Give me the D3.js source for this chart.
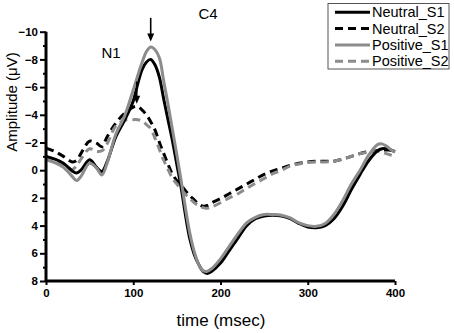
<!DOCTYPE html>
<html><head><meta charset="utf-8">
<script src="https://cdn.jsdelivr.net/npm/d3@7/dist/d3.min.js"></script>
<style>body{margin:0;background:#fff}svg{display:block}text{font-family:Arial,"Liberation Sans",sans-serif}</style>
</head><body>
<script>
const times = [0,10,20,30,35,40,50,58,64,70,80,90,100,105,110,115,120,125,130,135,140,145,150,155,160,165,170,175,180,185,190,200,210,220,230,240,250,260,270,280,290,300,310,320,330,340,350,360,370,380,385,390,395,400];
const neutralS1 = [-1.0,-0.8,-0.5,0.05,0.2,0.0,-0.75,-0.2,0.1,-0.6,-2.4,-3.6,-5.0,-6.2,-7.25,-7.8,-8.0,-7.6,-6.7,-5.1,-3.6,-2.1,-0.4,1.3,3.3,5.0,6.1,6.8,7.3,7.45,7.3,6.7,5.8,4.9,4.0,3.5,3.3,3.25,3.3,3.5,3.85,4.1,4.15,4.0,3.5,2.6,1.4,0.3,-0.7,-1.4,-1.55,-1.55,-1.45,-1.35];
const neutralS2 = [-1.6,-1.35,-1.0,-0.6,-0.7,-1.2,-2.1,-1.95,-1.7,-2.4,-3.4,-4.1,-4.55,-4.6,-4.35,-4.0,-3.5,-2.9,-2.0,-1.2,-0.4,0.3,0.75,1.1,1.5,1.85,2.15,2.45,2.6,2.55,2.35,2.05,1.7,1.35,1.0,0.65,0.3,0.05,-0.15,-0.35,-0.5,-0.6,-0.65,-0.65,-0.65,-0.8,-1.0,-1.2,-1.35,-1.4,-1.45,-1.45,-1.45,-1.4];
const positiveS1 = [-0.75,-0.55,-0.2,0.45,0.75,0.45,-0.5,-0.15,0.35,-0.5,-2.6,-3.9,-5.8,-6.8,-7.75,-8.55,-8.9,-8.7,-8.1,-6.4,-4.7,-2.9,-1.1,0.8,2.8,4.6,5.9,6.8,7.25,7.3,7.1,6.4,5.5,4.6,3.8,3.4,3.2,3.2,3.25,3.45,3.8,4.0,4.05,3.85,3.2,2.2,1.0,0.0,-1.1,-1.85,-1.9,-1.75,-1.5,-1.3];
const positiveS2 = [-1.0,-0.7,-0.4,-0.05,-0.3,-0.8,-1.55,-1.35,-1.4,-1.9,-3.2,-3.6,-3.65,-3.65,-3.57,-3.3,-3.0,-2.3,-1.5,-0.7,-0.05,0.6,1.0,1.4,1.75,2.05,2.35,2.55,2.7,2.75,2.65,2.35,2.0,1.7,1.3,0.95,0.6,0.25,0.0,-0.3,-0.45,-0.55,-0.6,-0.6,-0.65,-0.8,-1.0,-1.2,-1.3,-1.35,-1.3,-1.2,-1.1,-1.0];
const seriesNames = ["Neutral_S1","Neutral_S2","Positive_S1","Positive_S2"];
const xTicks = [0,100,200,300,400];
const yTicks = [-10,-8,-6,-4,-2,0,2,4,6,8];
const yMinorTicks = [-9,-7,-5,-3,-1,1,3,5,7];
const arrowTimes = [120,104];
const arrowFrom = [-11.0,-6.4];
const arrowTo = [-9.3,-4.8];

const W=454,H=333;
const svg=d3.select("body").append("svg").attr("width",W).attr("height",H);
svg.append("rect").attr("width",W).attr("height",H).attr("fill","#fff");
const x=d3.scaleLinear().domain([0,400]).range([46,395]);
const y=d3.scaleLinear().domain([-10,8]).range([31.7,281]);

const styles=[
  {color:"#000",dash:null},
  {color:"#000",dash:"8,5"},
  {color:"#8c8c8c",dash:null},
  {color:"#8c8c8c",dash:"8,5"}
];
const allVals=[neutralS1,neutralS2,positiveS1,positiveS2];

const line=d3.line().x(d=>x(d[0])).y(d=>y(d[1])).curve(d3.curveCatmullRom.alpha(0.5));
const drawOrder=[1,3,0,2];
drawOrder.forEach(i=>{
  const pts=times.map((t,j)=>[t,allVals[i][j]]);
  svg.append("path").attr("d",line(pts)).attr("fill","none")
    .attr("stroke",styles[i].color).attr("stroke-width",3)
    .attr("stroke-linejoin","round")
    .attr("stroke-dasharray",styles[i].dash);
});

// axes
const yAxis=svg.append("g").attr("transform","translate(46,0)")
  .call(d3.axisLeft(y).tickValues(yTicks).tickSize(6).tickFormat(d3.format("d")));
svg.append("g").attr("transform","translate(46,0)")
  .call(d3.axisLeft(y).tickValues(yMinorTicks).tickSize(3).tickFormat(""))
  .call(g=>g.select(".domain").remove())
  .selectAll("line").attr("stroke-width",2);
yAxis.select(".domain").attr("stroke-width",3).attr("d",`M0,${y(-10)}V${y(8)}`);
yAxis.selectAll(".tick line").attr("stroke-width",2);
yAxis.selectAll("text").attr("font-size",11.5).attr("font-weight","bold").attr("fill","#000").attr("x",-8);

const xAxis=svg.append("g").attr("transform",`translate(0,${y(8)})`)
  .call(d3.axisBottom(x).tickValues(xTicks).tickSize(4).tickFormat(d3.format("d")));
xAxis.select(".domain").attr("stroke-width",3).attr("d",`M${x(0)},0H${x(400)}`);
xAxis.selectAll(".tick line").attr("stroke-width",2);
xAxis.selectAll("text").attr("font-size",11.5).attr("font-weight","bold").attr("fill","#000").attr("y",8);

// titles
svg.append("text").attr("x",221).attr("y",326).attr("text-anchor","middle").attr("font-size",17).text("time (msec)");
svg.append("text").attr("transform","translate(17,102) rotate(-90)").attr("text-anchor","middle").attr("font-size",15).text("Amplitude (μV)");
svg.append("text").attr("x",208).attr("y",19).attr("text-anchor","middle").attr("font-size",15).text("C4");
svg.append("text").attr("x",111).attr("y",58).attr("text-anchor","middle").attr("font-size",15).text("N1");

// arrows
arrowTimes.forEach((t,i)=>{
  const ax=x(t),y0=y(arrowFrom[i]),y1=y(arrowTo[i]);
  svg.append("line").attr("x1",ax).attr("x2",ax).attr("y1",y0).attr("y2",y1-6).attr("stroke","#000").attr("stroke-width",1.6);
  svg.append("path").attr("d",`M${ax-3.5},${y1-8}L${ax+3.5},${y1-8}L${ax},${y1}Z`).attr("fill","#000");
});

// legend
const lg=svg.append("g");
lg.append("rect").attr("x",328).attr("y",3.5).attr("width",121).attr("height",65.5).attr("fill","#fff").attr("stroke","#555").attr("stroke-width",1);
seriesNames.forEach((n,i)=>{
  const ly=12.3+i*16.3;
  lg.append("line").attr("x1",335).attr("x2",370).attr("y1",ly).attr("y2",ly)
    .attr("stroke",styles[i].color).attr("stroke-width",3).attr("stroke-dasharray",styles[i].dash);
  lg.append("text").attr("x",372).attr("y",ly+5).attr("font-size",14.5).text(n);
});
</script>
</body></html>
